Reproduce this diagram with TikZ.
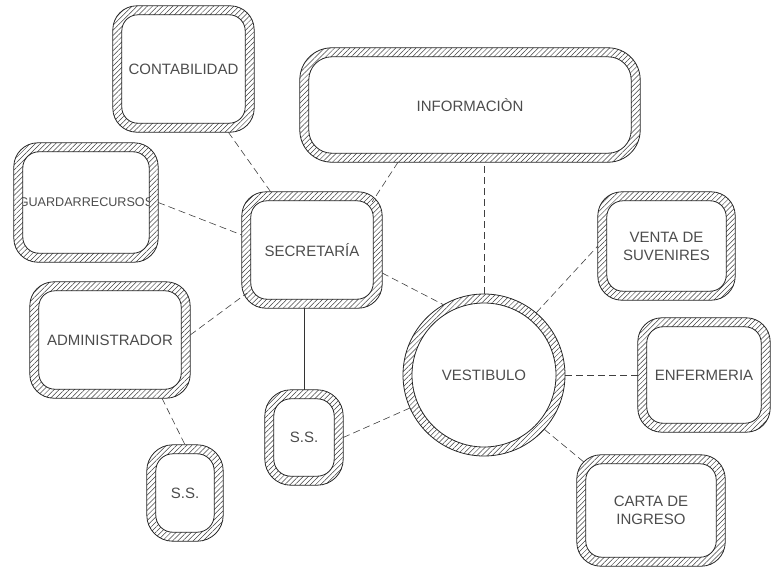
\documentclass[tikz,border=0pt]{standalone}
\usepackage{fontspec}
\setmainfont{Liberation Sans}
\usetikzlibrary{patterns.meta,calc}
\newcommand\bandbox[4]{%
  \path[bandfill,even odd rule] [rounded corners=#2] (#1.south west) rectangle (#1.north east) [rounded corners=#3] ([xshift=#4,yshift=#4]#1.south west) rectangle ([xshift=-#4,yshift=-#4]#1.north east);
  \path[bandline] [rounded corners=#2] (#1.south west) rectangle (#1.north east) [rounded corners=#3] ([xshift=#4,yshift=#4]#1.south west) rectangle ([xshift=-#4,yshift=-#4]#1.north east);
}
\begin{document}
\begin{tikzpicture}[x=1pt,y=-1pt,
  box/.style={rectangle,inner sep=0pt,text=black!70,font=\fontsize{15}{18}\selectfont,align=center},
  conn/.style={draw=black!75,line width=0.6pt,dash pattern=on 7pt off 4pt},
  solidconn/.style={draw=black!80,line width=0.7pt},
  bandfill/.style={fill=white,postaction={pattern={Lines[angle=45,distance=3.6pt,line width=0.5pt]},pattern color=black!75}},
  bandline/.style={draw=black!85,line width=0.8pt}
]
\useasboundingbox (0,0) rectangle (771,571);

% nodes
\node[box,minimum width=141pt,minimum height=126pt] (cont) at (183.5,69) {CONTABILIDAD};
\node[box,minimum width=340pt,minimum height=114pt] (info) at (470,105) {INFORMACIÒN};
\node[box,minimum width=144pt,minimum height=119pt,font=\fontsize{12.6}{15}\selectfont] (guard) at (86,202.5) {GUARDARRECURSOS};
\node[box,minimum width=140pt,minimum height=116pt] (sec) at (312,250) {SECRETARÍA};
\node[box,shape=circle,minimum size=162pt] (vest) at (484,375) {VESTIBULO};
\node[box,minimum width=137pt,minimum height=108pt] (venta) at (666.5,246) {VENTA DE\\SUVENIRES};
\node[box,minimum width=132pt,minimum height=114pt] (enf) at (704,375) {ENFERMERIA};
\node[box,minimum width=148pt,minimum height=111pt] (carta) at (651,510.5) {CARTA DE\\INGRESO};
\node[box,minimum width=160pt,minimum height=116pt] (admin) at (110,340) {ADMINISTRADOR};
\node[box,minimum width=76pt,minimum height=96pt] (ssa) at (185,493) {S.S.};
\node[box,minimum width=78pt,minimum height=95pt] (ssb) at (304,437.5) {S.S.};

% hatched bands
\bandbox{cont}{24pt}{16pt}{9pt}
\bandbox{info}{32pt}{23pt}{9pt}
\bandbox{guard}{24pt}{16pt}{9pt}
\bandbox{sec}{24pt}{16pt}{9pt}
\bandbox{venta}{24pt}{16pt}{9pt}
\bandbox{enf}{24pt}{16pt}{9pt}
\bandbox{carta}{24pt}{16pt}{9pt}
\bandbox{admin}{24pt}{16pt}{9pt}
\bandbox{ssa}{26pt}{17pt}{9pt}
\bandbox{ssb}{26pt}{17pt}{9pt}
\path[bandfill,even odd rule] (vest.center) circle[radius=81] (vest.center) circle[radius=72];
\path[bandline] (vest.center) circle[radius=81] (vest.center) circle[radius=72];

% connectors
\draw[conn] (cont) -- (sec);
\draw[conn] (guard.east) -- ([yshift=15pt]sec.west);
\draw[conn] ([yshift=5pt]admin.east) -- ([xshift=5pt,yshift=15pt]sec.south west);
\draw[conn] ([xshift=-72pt]info.south) -- ([xshift=-10pt,yshift=-10pt]sec.north east);
\draw[conn] (vest.north) -- (vest.north |- info.south);
\draw[conn] ([yshift=-23pt]sec.east) -- (vest.120);
\draw[solidconn] (ssb.north) -- (ssb.north |- sec.south);
\draw[conn] ([xshift=52pt]admin.south) -- (ssa.north);
\draw[conn] (ssb.east) -- (vest.204);
\draw[conn] (vest.50) -- (venta.west);
\draw[conn] (vest.east) -- (enf.west);
\draw[conn] (vest.-42) -- ([xshift=8pt,yshift=-8pt]carta.north west);
\end{tikzpicture}
\end{document}
